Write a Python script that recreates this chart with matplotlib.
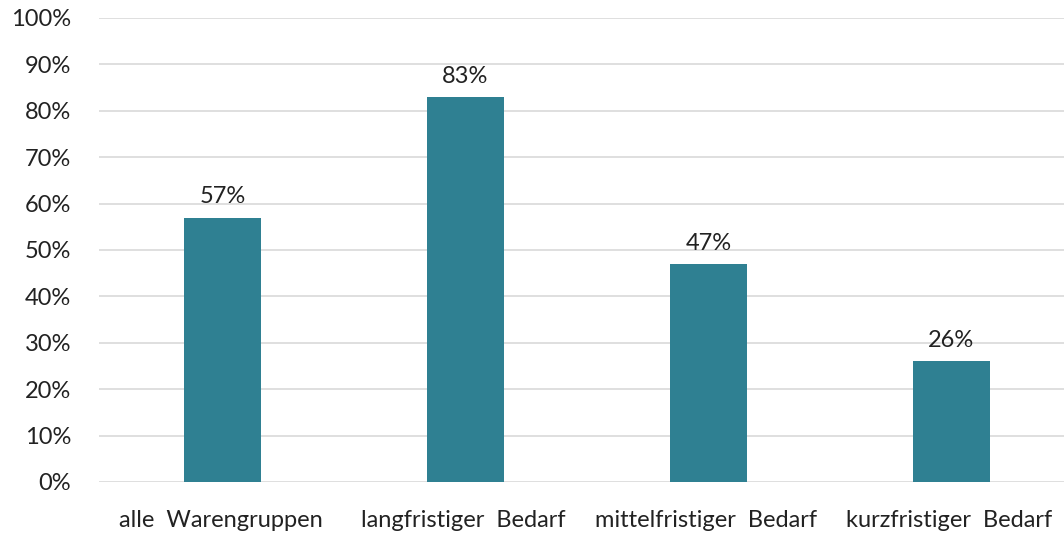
import matplotlib
matplotlib.use('Agg')
import matplotlib.pyplot as plt
from matplotlib.ticker import FuncFormatter

categories = ['alle  Warengruppen', 'langfristiger  Bedarf', 'mittelfristiger  Bedarf', 'kurzfristiger  Bedarf']
values = [57, 83, 47, 26]
yticks = list(range(0, 101, 10))

plt.rcParams['font.family'] = ['Lato', 'DejaVu Sans']

fig = plt.figure(figsize = (10.64, 5.36), dpi = 100)
ax = fig.add_axes([99 / 1064, 54 / 536, 965 / 1064, 464 / 536])

x = range(len(categories))
ax.bar([xi + 0.008 for xi in x], values, width = 0.315, color = '#2f8092', zorder = 2)
for xi, v in zip(x, values):
    ax.text(xi + 0.008, v + 2.2, f'{v}%', ha = 'center', va = 'bottom', fontsize = 17, color = '#222222')

ax.set_xlim(-0.5, -0.5 + 965 / 243)
ax.set_ylim(0, 100)
ax.set_yticks(yticks)
ax.yaxis.set_major_formatter(FuncFormatter(lambda v, p: f'{v:.0f}%'))
ax.set_xticks(list(x))
ax.set_xticklabels(categories)
ax.grid(axis = 'y', color = '#d9d9d9', linewidth = 1.2, zorder = 0)
ax.tick_params(axis = 'y', length = 0, pad = 20, labelsize = 17, labelcolor = '#222222')
ax.tick_params(axis = 'x', length = 0, pad = 20, labelsize = 17, labelcolor = '#222222')
for s in ax.spines.values():
    s.set_visible(False)

fig.savefig('out.png', dpi = 100)
